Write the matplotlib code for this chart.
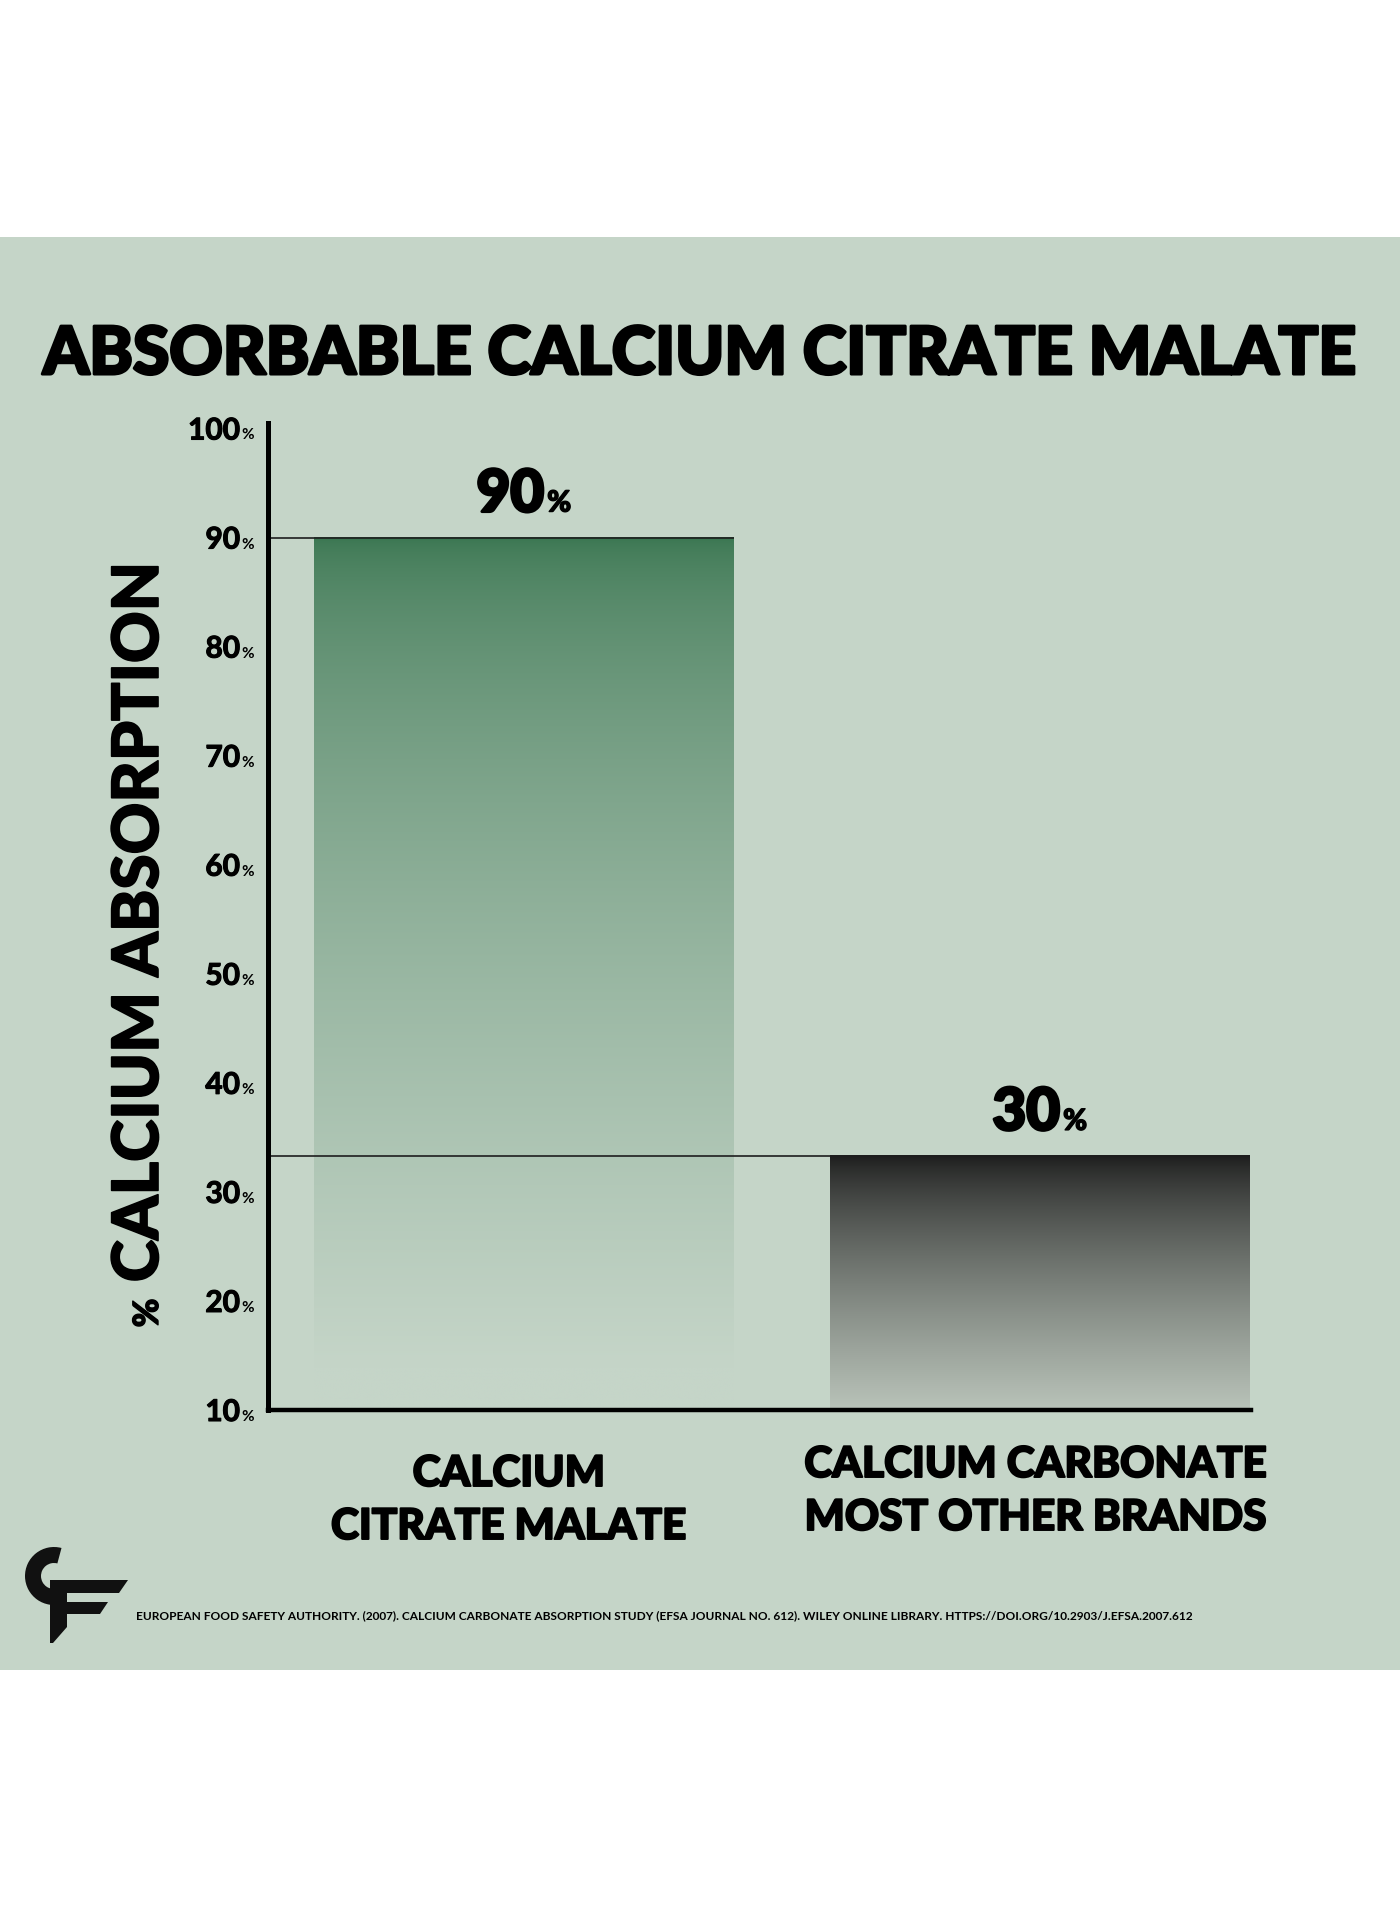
import numpy as np
import matplotlib
matplotlib.use("Agg")
import matplotlib.pyplot as plt
import matplotlib.patheffects as pe
from matplotlib.patches import Rectangle, Wedge, Polygon
from matplotlib.colors import to_rgb

plt.rcParams['font.family'] = ['Lato', 'DejaVu Sans']

# data
categories = ["CALCIUM\nCITRATE MALATE", "CALCIUM CARBONATE\nMOST OTHER BRANDS"]
bar_tops = [90, 33.3]          # where the bars end on the axis
value_labels = ["90", "30"]    # what is printed above them
yticks = [10, 20, 30, 40, 50, 60, 70, 80, 90, 100]
title = "ABSORBABLE CALCIUM CITRATE MALATE"
ylabel = "CALCIUM ABSORPTION"
citation = ("EUROPEAN FOOD SAFETY AUTHORITY. (2007). CALCIUM CARBONATE ABSORPTION STUDY "
            "(EFSA JOURNAL NO. 612). WILEY ONLINE LIBRARY. HTTPS://DOI.ORG/10.2903/J.EFSA.2007.612")

BG = "#c5d5c8"
top_colors = ["#3a7651", "#1b1b1b"]
bottom_colors = [BG, "#b9c3b9"]
fade_to = [14, 10]
gammas = [0.6, 0.75]

def heavy(w):
    return [pe.withStroke(linewidth=w, foreground="black")]

W, H = 1400, 1909
fig = plt.figure(figsize=(W / 100, H / 100), dpi=100)
fig.patch.set_facecolor("white")

# background layer in pixel coordinates
bg = fig.add_axes([0, 0, 1, 1], zorder=-1)
bg.set_xlim(0, W)
bg.set_ylim(H, 0)
bg.axis("off")
bg.add_patch(Rectangle((0, 237), W, 1433, color=BG, lw=0))

ax = fig.add_axes([0.1914, 0.2614, 0.7022, 0.5170])
ax.set_facecolor("none")
ax.set_xlim(-0.4965, 1.409)
ax.set_ylim(10, 100.5)

x = np.arange(len(categories))
bw = 0.814
for i in range(len(categories)):
    top = bar_tops[i]
    n = 300
    vals = np.linspace(top, 10, n)
    t = np.clip((top - vals) / (top - fade_to[i]), 0, 1) ** gammas[i]
    c0 = np.array(to_rgb(top_colors[i]))
    c1 = np.array(to_rgb(bottom_colors[i]))
    grad = c0[None, :] + t[:, None] * (c1 - c0)[None, :]
    img = np.repeat(grad[:, None, :], 2, axis=1)
    ax.imshow(img, extent=[x[i] - bw / 2, x[i] + bw / 2, 10, top],
              aspect="auto", origin="upper", interpolation="bilinear", zorder=1)

# thin lines at the bar tops
ax.hlines(bar_tops[0], ax.get_xlim()[0], x[0] + bw / 2, color="#1e1e1e", lw=1.2, zorder=3)
ax.hlines(bar_tops[1], ax.get_xlim()[0], x[1] + bw / 2, color="#1e1e1e", lw=1.2, zorder=3)

for s in ["top", "right"]:
    ax.spines[s].set_visible(False)
ax.spines["left"].set_linewidth(3.6)
ax.spines["bottom"].set_linewidth(3.2)
ax.spines["left"].set_zorder(4)
ax.spines["bottom"].set_zorder(4)
ax.set_yticks(yticks)
ax.set_yticklabels([])
ax.set_xticks([])
ax.tick_params(length=0)

# tick labels: big number + small %
for v in yticks:
    ax.annotate(str(v), xy=(0, v), xycoords=("axes fraction", "data"),
                xytext=(-28, -11), textcoords="offset pixels",
                ha="right", va="baseline", fontsize=21.5, fontweight="bold",
                path_effects=heavy(0.8))
    ax.annotate("%", xy=(0, v), xycoords=("axes fraction", "data"),
                xytext=(-27, -11), textcoords="offset pixels",
                ha="left", va="baseline", fontsize=11, fontweight="bold")

# value labels above bars
for i in range(len(categories)):
    ax.annotate(value_labels[i], xy=(x[i], bar_tops[i]), xytext=(20, 26),
                textcoords="offset pixels", ha="right", va="baseline",
                fontsize=42, fontweight="black", path_effects=heavy(2.2))
    ax.annotate("%", xy=(x[i], bar_tops[i]), xytext=(23, 26),
                textcoords="offset pixels", ha="left", va="baseline",
                fontsize=21, fontweight="black", path_effects=heavy(1.0))

# category labels
cat_pos = [(509, 1486), (1036, 1477)]
for (cx, cy), lab in zip(cat_pos, categories):
    for j, line in enumerate(lab.split("\n")):
        bg.text(cx, cy + j * 53, line, ha="center", va="baseline",
                fontsize=30.5, fontweight="black", path_effects=heavy(1.4))

# title
bg.text(700, 374, title, ha="center", va="baseline", fontsize=47.5,
        fontweight="black", path_effects=heavy(2.2))

# rotated y label with a small %
bg.text(158, 922, ylabel, rotation=90, rotation_mode="anchor",
        ha="center", va="baseline", fontsize=46, fontweight="black",
        path_effects=heavy(1.2))
bg.text(158, 1313, "%", rotation=90, rotation_mode="anchor",
        ha="center", va="baseline", fontsize=25, fontweight="black",
        path_effects=heavy(1.0))

# citation
bg.text(136, 1619, citation, ha="left", va="baseline", fontsize=8.6, fontweight="bold")

# CF logo
bg.add_patch(Wedge((54, 1576), 29, 72, 285, width=16, color="#111111", lw=0))
bg.add_patch(Polygon([(50, 1580), (128, 1580), (119, 1593), (67, 1593),
                      (67, 1602), (108, 1602), (100, 1614), (67, 1614),
                      (67, 1627), (53, 1643), (50, 1643)], closed=True,
                     color="#111111", lw=0))

fig.savefig("out.png", dpi=100, facecolor=fig.get_facecolor())
